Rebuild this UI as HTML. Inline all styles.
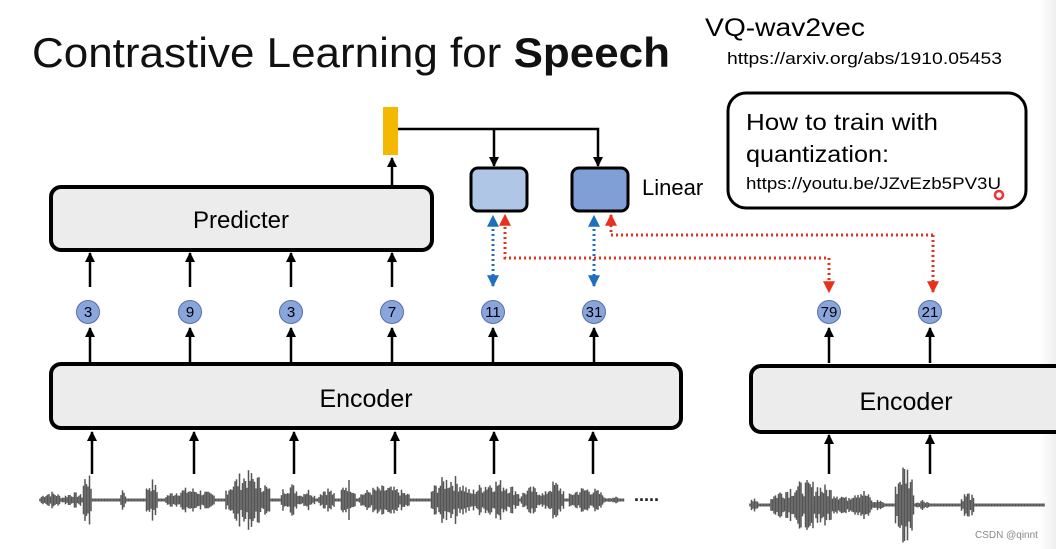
<!DOCTYPE html>
<html><head><meta charset="utf-8"><style>
html,body{margin:0;padding:0;background:#fff;}
svg{display:block;font-family:"Liberation Sans",sans-serif;}
</style></head><body>
<svg id="s" width="1056" height="549" viewBox="0 0 1056 549" xmlns="http://www.w3.org/2000/svg">
<defs>
<marker id="ak" viewBox="0 0 10 10" refX="9" refY="5" markerWidth="4" markerHeight="4" orient="auto"><path d="M0,0L10,5L0,10z" fill="#000"/></marker>
<marker id="ab" viewBox="0 0 10 10" refX="9" refY="5" markerWidth="4" markerHeight="4" orient="auto-start-reverse"><path d="M0,0L10,5L0,10z" fill="#1f6fc1"/></marker>
<marker id="ar" viewBox="0 0 10 10" refX="9" refY="5" markerWidth="4" markerHeight="4" orient="auto"><path d="M0,0L10,5L0,10z" fill="#e8311c"/></marker>
<linearGradient id="fade" x1="0" x2="1"><stop offset="0" stop-color="#fff"/><stop offset="1" stop-color="#eee"/></linearGradient>
</defs>
<rect x="1040" y="0" width="16" height="549" fill="url(#fade)"/>
<text x="32" y="67" font-size="42" textLength="638" lengthAdjust="spacingAndGlyphs" fill="#111">Contrastive Learning for <tspan font-weight="bold">Speech</tspan></text>
<text x="705" y="36" font-size="25" textLength="160" lengthAdjust="spacingAndGlyphs">VQ-wav2vec</text>
<text x="727" y="64" font-size="17" textLength="275" lengthAdjust="spacingAndGlyphs">https://arxiv.org/abs/1910.05453</text>
<rect x="728" y="93" width="298" height="115" rx="18" fill="#fff" stroke="#000" stroke-width="3"/>
<text x="746" y="130" font-size="23" textLength="192" lengthAdjust="spacingAndGlyphs">How to train with</text>
<text x="746" y="162" font-size="23" textLength="143" lengthAdjust="spacingAndGlyphs">quantization:</text>
<text x="746" y="189" font-size="17" textLength="255" lengthAdjust="spacingAndGlyphs">https://youtu.be/JZvEzb5PV3U</text>
<circle cx="999" cy="195" r="4" fill="none" stroke="#e33" stroke-width="2.5"/>

<rect x="383" y="107" width="15" height="48" fill="#f5b800"/>
<g stroke="#000" stroke-width="2.5" fill="none">
<path d="M398 129H598V166" marker-end="url(#ak)"/>
<path d="M494 129V166" marker-end="url(#ak)"/>
<path d="M392 186V158" marker-end="url(#ak)"/>
</g>
<rect x="471" y="168" width="56" height="43" rx="7" fill="#b0c6e6" stroke="#000" stroke-width="3"/>
<rect x="572" y="168" width="56" height="43" rx="7" fill="#7f9fd6" stroke="#000" stroke-width="3"/>
<text x="642" y="195" font-size="22">Linear</text>

<rect x="51" y="187" width="381" height="63" rx="10" fill="#ececec" stroke="#000" stroke-width="4"/>
<text x="241" y="228" font-size="24" text-anchor="middle">Predicter</text>

<g stroke="#000" stroke-width="2.5" fill="none" marker-end="url(#ak)" id="arr"></g>

<g stroke="#1f6fc1" stroke-width="3" stroke-dasharray="2 3" fill="none">
<path d="M493 286V216" marker-start="url(#ab)" marker-end="url(#ab)"/>
<path d="M594 286V216" marker-start="url(#ab)" marker-end="url(#ab)"/>
</g>
<g stroke="#e8311c" stroke-width="3" stroke-dasharray="2 3" fill="none">
<path d="M829 290V258H505V215" marker-end="url(#ar)"/>
<path d="M829 258V292" marker-end="url(#ar)"/>
<path d="M933 235H611V215" marker-end="url(#ar)"/>
<path d="M933 235V292" marker-end="url(#ar)"/>
</g>

<g id="circ" font-size="15" text-anchor="middle"></g>

<rect x="51" y="364" width="630" height="64" rx="10" fill="#ececec" stroke="#000" stroke-width="4"/>
<text x="366" y="407" font-size="25" text-anchor="middle">Encoder</text>
<rect x="751" y="366" width="320" height="66" rx="10" fill="#ececec" stroke="#000" stroke-width="4"/>
<text x="906" y="410" font-size="25" text-anchor="middle">Encoder</text>

<g id="wave" stroke="#555" stroke-width="1.5"></g>
<text x="634" y="501" font-size="18" font-weight="bold" fill="#222">.....</text>
<text x="975" y="538" font-size="10" fill="#888">CSDN @qinnt</text>
</svg>
<script>
var ns="http://www.w3.org/2000/svg";
function el(p,t,a,txt){var e=document.createElementNS(ns,t);for(var k in a)e.setAttribute(k,a[k]);if(txt)e.textContent=txt;document.getElementById(p).appendChild(e);}
[90,190,291,392].forEach(function(x){el("arr","path",{d:"M"+x+" 287V253"});});
[90,190,291,392,493,594,829,930].forEach(function(x){el("arr","path",{d:"M"+x+" 363V328"});});
[92,194,294,395,494,593].forEach(function(x){el("arr","path",{d:"M"+x+" 474V432"});});
[829,930].forEach(function(x){el("arr","path",{d:"M"+x+" 474V435"});});
var c=[[88,"3"],[190,"9"],[291,"3"],[392,"7"],[493,"11"],[594,"31"],[829,"79"],[930,"21"]];
c.forEach(function(p){el("circ","circle",{cx:p[0],cy:312,r:11.5,fill:"#8aa5dc",stroke:"#5570a8","stroke-width":1});el("circ","text",{x:p[0],y:317},p[1]);});
var s=7;function r(){s=(s*9301+49297)%233280;return s/233280;}
function wave(x0,x1,cy,bursts){for(var x=x0;x<x1;x+=1.5){var a=1.5;bursts.forEach(function(b){if(x>b[0]&&x<b[1]){var m=(x-b[0])/(b[1]-b[0]);var env=Math.sin(Math.PI*m);a=Math.max(a,b[2]*(0.35+0.65*r())*(0.4+0.6*env));}});el("wave","line",{x1:x,x2:x,y1:cy-a,y2:cy+a});}}
wave(40,625,500,[[40,62,9],[62,85,8],[82,92,30],[120,126,14],[145,158,22],[165,215,13],[225,270,30],[280,300,18],[300,315,12],[318,335,14],[340,356,22],[358,410,15],[430,470,26],[470,520,22],[520,545,14],[545,565,20],[568,605,14],[605,620,4]]);
wave(750,1045,505,[[750,758,10],[770,845,25],[845,872,18],[872,885,6],[895,915,45],[915,930,6],[960,975,14]]);
</script>
</body></html>
